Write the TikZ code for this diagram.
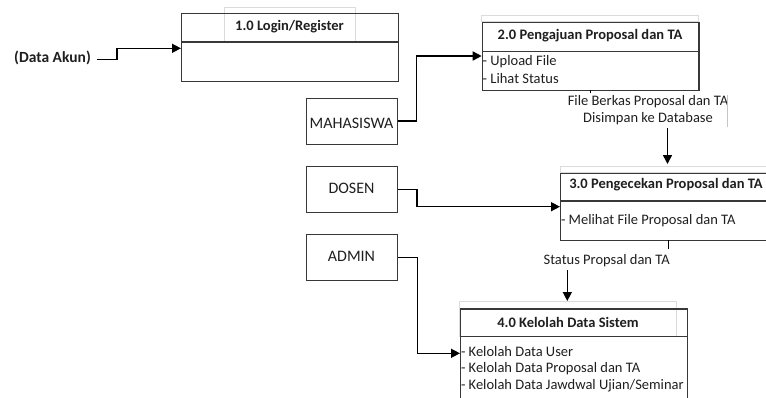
\documentclass[tikz,border=0pt]{standalone}
\usepackage{fontspec}
\setmainfont{Carlito}
\usetikzlibrary{arrows.meta,calc}
\definecolor{markyellow}{RGB}{238,214,0}
\begin{document}
\begin{tikzpicture}[x=1pt,y=-1pt,
  font=\fontsize{14.5}{17}\selectfont,
  every node/.style={text=black!88, inner sep=0pt},
  procbox/.style={draw=black!78, line width=1.3pt, anchor=north west},
  entity/.style={draw=black!78, line width=1.2pt, anchor=north west,
    minimum width=91, minimum height=46},
  entitylabel/.style={font=\fontsize{16}{19}\selectfont},
  shade/.style={draw=black!14, line width=0.7pt},
  divider/.style={draw=black!78, line width=1.2pt},
  flow/.style={draw=black, line width=1.5pt},
  flowarrow/.style={flow, -{Triangle[length=9pt,width=9pt]}},
  head/.style={font=\fontsize{14.5}{17}\selectfont\bfseries},
  item/.style={anchor=west, align=left}]
\clip (0,0) rectangle (766,397);
\fill[white] (0,0) rectangle (766,397);

% ---- process 1.0
\draw[shade] (224,7) rectangle (355,42);
\node[procbox, minimum width=217, minimum height=68] (p1) at (181,13) {};
\draw[divider] (181,42) -- (398,42);
\node[head] (p1h) at (289.5,27) {1.0 Login/Register};

% ---- process 2.0
\draw[shade] (481.7,15.7) rectangle (698.3,21.7);
\node[procbox, minimum width=216.6, minimum height=68.3] (p2) at (481.7,21.7) {};
\draw[divider] (481.7,51.7) -- (698.3,51.7);
\node[head] (p2h) at (590,35.5) {2.0 Pengajuan Proposal dan TA};
\node[item] (p2a) at (482.5,61.5) {- Upload File};
\node[item] (p2b) at (482.5,78.5) {- Lihat Status};

% ---- process 3.0
\draw[shade] (560,166.7) rectangle (790,172.7);
\node[procbox, minimum width=230, minimum height=67.3] (p3) at (560,172.7) {};
\draw[divider] (560,201) -- (790,201);
\node[head] (p3h) at (666,185) {3.0 Pengecekan Proposal dan TA};
\node[item] (p3a) at (560.8,221) {- Melihat File Proposal dan TA};

% ---- process 4.0
\draw[shade] (459.7,301.7) rectangle (676,336.7);
\node[procbox, minimum width=226.7, minimum height=110] (p4) at (460,308.3) {};
\draw[divider] (460,336.7) -- (686.7,336.7);
\node[head] (p4h) at (568,322.5) {4.0 Kelolah Data Sistem};
\node[item] (p4a) at (460.8,352) {- Kelolah Data User};
\node[item] (p4b) at (460.8,369) {- Kelolah Data Proposal dan TA};
\node[item] (p4c) at (460.8,386) {- Kelolah Data Jawdwal Ujian/Seminar};

% ---- external entities
\node[entity] (mhs) at (306,98) {};
\node[entitylabel] (mhsl) at (351.5,123) {MAHASISWA};
\node[entity] (dsn) at (306,166) {};
\node[entitylabel] (dsnl) at (351.5,188.5) {DOSEN};
\node[entity] (adm) at (306,234) {};
\node[entitylabel] (adml) at (351.5,256.5) {ADMIN};

% ---- data account input
\node[head, font=\fontsize{15.5}{18}\selectfont\bfseries, anchor=east] (akun) at (91,58.3) {(Data Akun)};
\coordinate (akunbend) at (117,59.3);
\draw[flowarrow] ($(akun.east)+(5.5,1)$) -- (akunbend) |- (p1.west |- 0,48.3);

% ---- entity flows
\draw[flowarrow] (mhs.east |- 0,121) -| (416.7,56) -- (p2.west |- 0,56);
\draw[flowarrow] (dsn.east |- 0,189.3) -| (417,206.7) -- (p3.west |- 0,206.7);
\draw[flowarrow] (adm.east |- 0,257.3) -| (417.3,353.3) -- (p4.west |- 0,353.3);

% ---- labelled flows between processes
\draw[flow, line width=1pt] (590,90) -- (590,93);
\node[align=center] (lab1) at (648,110) {File Berkas Proposal dan TA\\Disimpan ke Database};
\draw[draw=markyellow, line width=1.4pt] (727.7,95) -- (727.7,126.5);
\coordinate (p3in) at (667.5,164);
\draw[flowarrow] (667.5,128) -- (p3in);

\draw[flow, line width=1pt] (668,240) -- (668,248.5);
\node (lab2) at (606.7,261) {Status Propsal dan TA};
\draw[flowarrow] (567.3,270) -- (567.3,301);
\end{tikzpicture}
\end{document}
